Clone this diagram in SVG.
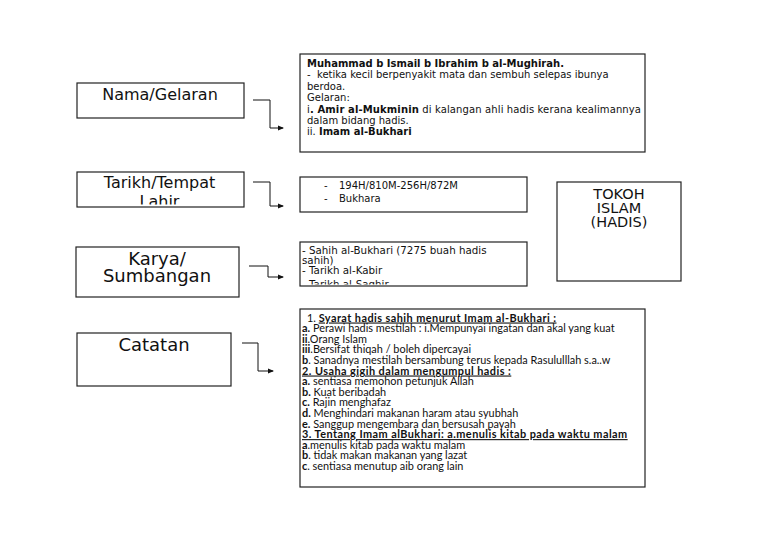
<svg xmlns="http://www.w3.org/2000/svg" width="768" height="543" viewBox="0 0 768 543">
<style>
.box{fill:#fff;stroke:#222;stroke-width:1.2}
.lbl{font-family:"DejaVu Sans",sans-serif;font-size:16px;fill:#111;text-anchor:middle}
.t{font-family:"DejaVu Sans",sans-serif;font-size:10px;fill:#111}
.c{font-family:Lato,"DejaVu Sans",sans-serif;font-size:10.9px;fill:#111}
.b{font-weight:bold}
.u{text-decoration:underline;letter-spacing:0.45px}
.con{fill:none;stroke:#111;stroke-width:1}
</style>
<defs>
<marker id="ah" markerWidth="6" markerHeight="6" refX="5" refY="3" orient="auto" markerUnits="userSpaceOnUse">
<path d="M0,0.5 L6,3 L0,5.5 z" fill="#111"/>
</marker>
<clipPath id="clipTarikh"><rect x="77" y="172" width="167" height="32.5"/></clipPath>
<clipPath id="clipKarya"><rect x="300" y="242" width="227" height="42.5"/></clipPath>
</defs>
<rect width="768" height="543" fill="#fff"/>

<g id="nama">
<rect class="box" x="77" y="83" width="167" height="35"/>
<text class="lbl" x="160" y="99.5">Nama/Gelaran</text>
</g>

<g id="tarikh">
<rect class="box" x="77" y="172" width="167" height="35"/>
<g clip-path="url(#clipTarikh)">
<text class="lbl" x="159.5" y="188">Tarikh/Tempat</text>
<text class="lbl" x="159.5" y="207">Lahir</text>
</g>
</g>

<g id="karya">
<rect class="box" x="76" y="247" width="163" height="50"/>
<text class="lbl" x="157" y="265" style="font-size:18px">Karya/</text>
<text class="lbl" x="157" y="282" style="font-size:18px">Sumbangan</text>
</g>

<g id="catatan">
<rect class="box" x="77" y="333" width="154" height="53"/>
<text class="lbl" x="154" y="351" style="font-size:18px">Catatan</text>
</g>

<g id="tokoh">
<rect class="box" x="557" y="182" width="124" height="99"/>
<text class="lbl" x="619" y="198.5" style="font-size:14.5px">TOKOH</text>
<text class="lbl" x="619" y="213" style="font-size:14.5px">ISLAM</text>
<text class="lbl" x="619" y="227" style="font-size:14.5px">(HADIS)</text>
</g>

<g id="info-nama">
<rect class="box" x="300" y="54" width="345" height="98"/>
<text class="t b" x="307" y="67">Muhammad b Ismail b Ibrahim b al-Mughirah.</text>
<text class="t" x="307" y="78.4" xml:space="preserve">-  ketika kecil berpenyakit mata dan sembuh selepas ibunya</text>
<text class="t" x="307" y="89.8">berdoa.</text>
<text class="t" x="307" y="101.2">Gelaran:</text>
<text class="t" x="307" y="112.6" textLength="334" lengthAdjust="spacing">i<tspan class="b">. Amir al-Mukminin</tspan> di kalangan ahli hadis kerana kealimannya</text>
<text class="t" x="307" y="124">dalam bidang hadis.</text>
<text class="t" x="307" y="135.4">ii. <tspan class="b">Imam al-Bukhari</tspan></text>
</g>

<g id="info-tarikh">
<rect class="box" x="300" y="177" width="227" height="35"/>
<text class="t" x="324" y="189">-</text>
<text class="t" x="339" y="189">194H/810M-256H/872M</text>
<text class="t" x="324" y="202">-</text>
<text class="t" x="339" y="202">Bukhara</text>
</g>

<g id="info-karya">
<rect class="box" x="300" y="242" width="227" height="44"/>
<g clip-path="url(#clipKarya)">
<text class="t" x="302" y="254" style="font-size:10.3px">- Sahih al-Bukhari (7275 buah hadis</text>
<text class="t" x="302" y="264" style="font-size:10.3px">sahih)</text>
<text class="t" x="302" y="274" style="font-size:10.3px">- Tarikh al-Kabir</text>
<text class="t" x="302" y="287.5" style="font-size:10.3px">- Tarikh al-Saghir</text>
</g>
</g>

<g id="info-catatan">
<rect class="box" x="300" y="309" width="345" height="178"/>
<text class="c" x="307" y="321.5">1. <tspan class="b u">Syarat hadis sahih menurut Imam al-Bukhari :</tspan></text>
<text class="c" x="302" y="332.1"><tspan class="b">a.</tspan> Perawi hadis mestilah : i.Mempunyai ingatan dan akal yang kuat</text>
<text class="c" x="302" y="342.7"><tspan class="b">ii</tspan>.Orang Islam</text>
<text class="c" x="302" y="353.3"><tspan class="b">iii</tspan>.Bersifat thiqah / boleh dipercayai</text>
<text class="c" x="302" y="363.9"><tspan class="b">b</tspan>. Sanadnya mestilah bersambung terus kepada Rasululllah s.a..w</text>
<text class="c b u" x="302" y="374.5">2. Usaha gigih dalam mengumpul hadis :</text>
<text class="c" x="302" y="385.1"><tspan class="b">a.</tspan> sentiasa memohon petunjuk Allah</text>
<text class="c" x="302" y="395.7"><tspan class="b">b.</tspan> Kuat beribadah</text>
<text class="c" x="302" y="406.3"><tspan class="b">c.</tspan> Rajin menghafaz</text>
<text class="c" x="302" y="416.9"><tspan class="b">d.</tspan> Menghindari makanan haram atau syubhah</text>
<text class="c" x="302" y="427.5"><tspan class="b">e.</tspan> Sanggup mengembara dan bersusah payah</text>
<text class="c b u" x="302" y="438.1">3. Tentang Imam alBukhari: a.menulis kitab pada waktu malam</text>
<text class="c" x="302" y="448.7"><tspan class="b">a</tspan>.menulis kitab pada waktu malam</text>
<text class="c" x="302" y="459.3"><tspan class="b">b</tspan>. tidak makan makanan yang lazat</text>
<text class="c" x="302" y="469.9"><tspan class="b">c</tspan>. sentiasa menutup aib orang lain</text>
</g>

<g id="connectors">
<path class="con" d="M253,100 H270 V128 H283" marker-end="url(#ah)"/>
<path class="con" d="M253,182 H270 V206 H283" marker-end="url(#ah)"/>
<path class="con" d="M249,266 H268 V277 H283" marker-end="url(#ah)"/>
<path class="con" d="M242,343 H258 V371 H273" marker-end="url(#ah)"/>
</g>
</svg>
